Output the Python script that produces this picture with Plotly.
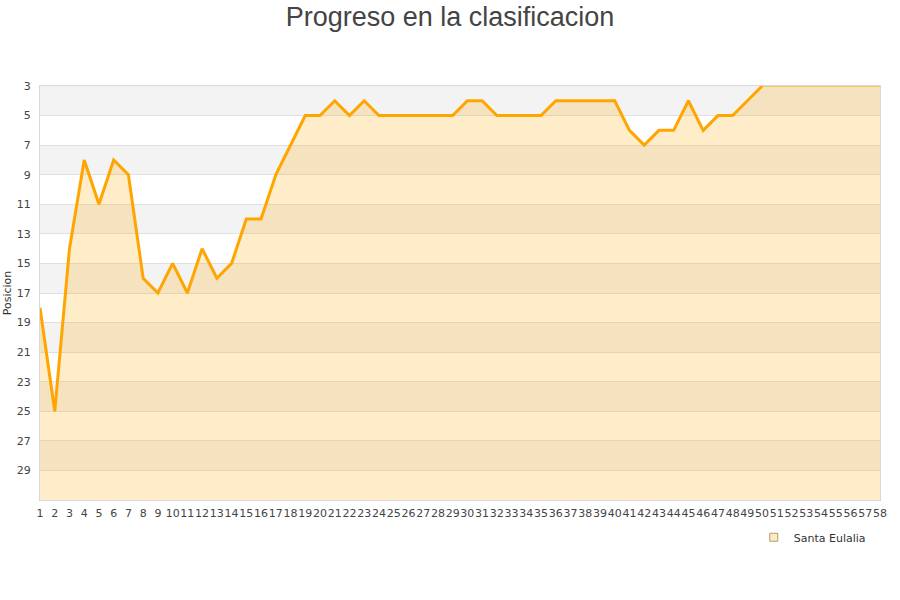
import plotly.graph_objs as go

jornadas = list(range(1, 59))
posiciones = [18, 25, 14, 8, 11, 8, 9, 16, 17, 15, 17, 14, 16, 15, 12, 12, 9, 7, 5, 5,
              4, 5, 4, 5, 5, 5, 5, 5, 5, 4, 4, 5, 5, 5, 5, 4, 4, 4, 4, 4,
              6, 7, 6, 6, 4, 6, 5, 5, 4, 3]
resto = [3, 3, 3, 3, 3, 3, 3, 3]
y_ticks = list(range(3, 31, 2))
fondo = 31
equipo = 'Santa Eulalia'

naranja = '#ffa500'
jugadas = jornadas[:len(posiciones)]
todas = posiciones + resto

fig = go.Figure()

# base para el relleno (parte de abajo del eje invertido)
fig.add_trace(go.Scatter(
    x=jornadas, y=[fondo] * len(jornadas),
    mode='lines', line=dict(width=0),
    hoverinfo='skip', showlegend=False
))

fig.add_trace(go.Scatter(
    x=jornadas, y=todas,
    mode='lines', line=dict(width=0),
    fill='tonexty', fillcolor='rgba(255,165,0,0.21)',
    hoverinfo='skip', showlegend=False
))

fig.add_trace(go.Scatter(
    x=jornadas[len(posiciones) - 1:], y=todas[len(posiciones) - 1:],
    mode='lines', line=dict(color=naranja, width=1),
    hoverinfo='skip', showlegend=False
))

fig.add_trace(go.Scatter(
    x=jugadas, y=posiciones,
    mode='lines', line=dict(color=naranja, width=3),
    name=equipo, showlegend=False
))

# entrada de leyenda
fig.add_trace(go.Scatter(
    x=[None], y=[None], mode='markers', name=equipo,
    marker=dict(symbol='square', size=8, color='#fde9c4',
                line=dict(color='#b09a70', width=1))
))

# bandas grises alternas
shapes = []
for i, t in enumerate(y_ticks):
    if i % 2 == 0:
        shapes.append(dict(type='rect', xref='paper', yref='y', x0=0, x1=1,
                           y0=t, y1=t + 2, fillcolor='#f3f3f3',
                           line=dict(width=0), layer='below'))

fig.update_layout(
    width=900, height=600,
    title=dict(text='Progreso en la clasificacion', x=0.5, xanchor='center',
               y=1 - 17 / 600, yanchor='middle', yref='container',
               font=dict(family='Liberation Sans, Arial', size=27, color='#444')),
    font=dict(family='DejaVu Sans', size=11, color='#444'),
    margin=dict(l=40, r=20, t=86, b=100),
    paper_bgcolor='white', plot_bgcolor='white',
    shapes=shapes,
    showlegend=True,
    legend=dict(x=0.989, xanchor='right', y=-0.09, yanchor='middle',
                font=dict(size=11, color='#333'), bgcolor='rgba(0,0,0,0)'),
    hovermode='closest'
)

fig.update_xaxes(
    range=[1, 58], tickmode='array', tickvals=jornadas,
    ticktext=[str(j) for j in jornadas], tickangle=0,
    showgrid=False, zeroline=False, ticks='', automargin=False,
    ticklabelstandoff=3,
    showline=True, linecolor='#d9d9d9', mirror=True,
    tickfont=dict(size=11, color='#444')
)

fig.update_yaxes(
    range=[fondo, 3], tickmode='array', tickvals=y_ticks,
    showgrid=True, gridcolor='#e0e0e0', zeroline=False, ticks='', automargin=False,
    ticklabelstandoff=6,
    showline=True, linecolor='#d9d9d9', mirror=True,
    title=dict(text='Posicion', font=dict(size=11, color='#333'), standoff=2),
    tickfont=dict(size=11, color='#444')
)

# sin el margen por defecto del body la figura ocupa la ventana entera
fig.write_html('out.html', config={'displayModeBar': False},
               post_script="document.body.style.margin = '0';")
